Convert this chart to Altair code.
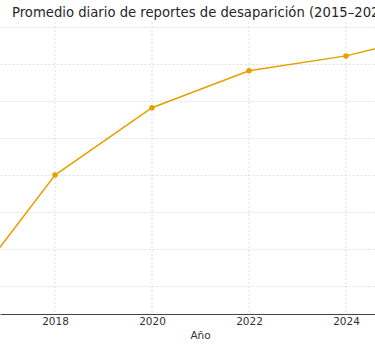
import altair as alt
import pandas as pd

years = [2016, 2018, 2020, 2022, 2024, 2025]
values = [7.8, 25.0, 34.1, 39.1, 41.1, 42.7]
x_ticks = [2018, 2020, 2022, 2024]
x_grid = [2016, 2018, 2020, 2022, 2024]
y_grid = [10, 15, 20, 25, 30, 35, 40, 45]

df = pd.DataFrame({"Año": years, "Promedio": values})

ORANGE = "#E69F00"
FONT = "DejaVu Sans"

x_scale = alt.Scale(domain=[2016.866, 2024.598], nice=False, zero=False)
y_scale = alt.Scale(domain=[6.216, 45.68], nice=False, zero=False)

base = alt.Chart(df)

line = base.mark_line(color=ORANGE, strokeWidth=1.5, clip=True).encode(
    x=alt.X("Año:Q", scale=x_scale,
            axis=alt.Axis(values=x_ticks, format="d", title="Año",
                          grid=False, labelFont=FONT, labelFontSize=10.5,
                          labelColor="#333333", titleFont=FONT,
                          titleFontSize=10.5, titleFontWeight="normal",
                          titleColor="#333333", domainColor="#444444",
                          domainWidth=1, ticks=False, titleX=200,
                          labelPadding=2, titlePadding=4, labelFlush=False)),
    y=alt.Y("Promedio:Q", scale=y_scale,
            axis=alt.Axis(values=y_grid, labels=False, ticks=False,
                          domain=False, title=None, grid=True,
                          gridColor="#d8d8d8", gridDash=[2, 2],
                          gridWidth=0.8)),
)

vgrid = alt.Chart(pd.DataFrame({"g": x_grid})).mark_rule(
    color="#d8d8d8", strokeDash=[2, 2], strokeWidth=0.8, clip=True
).encode(x=alt.X("g:Q", scale=x_scale))

points = base.mark_circle(color=ORANGE, size=30, opacity=1, clip=True).encode(
    x=alt.X("Año:Q", scale=x_scale),
    y=alt.Y("Promedio:Q", scale=y_scale),
)

chart = alt.layer(vgrid, line, points).properties(
    width=375,
    height=292,
    autosize=alt.AutoSizeParams(type="none"),
    padding={"left": 0, "right": 0, "top": 22, "bottom": 32},
    background="white",
    title=alt.TitleParams(
        "Promedio diario de reportes de desaparición (2015–2025)",
        anchor="start", dx=12, offset=1.5, font=FONT, fontSize=13.2,
        fontWeight="normal", color="#262626",
    ),
).configure_view(stroke=None)

chart.save("out.html", embed_options={"renderer": "svg", "actions": False})
